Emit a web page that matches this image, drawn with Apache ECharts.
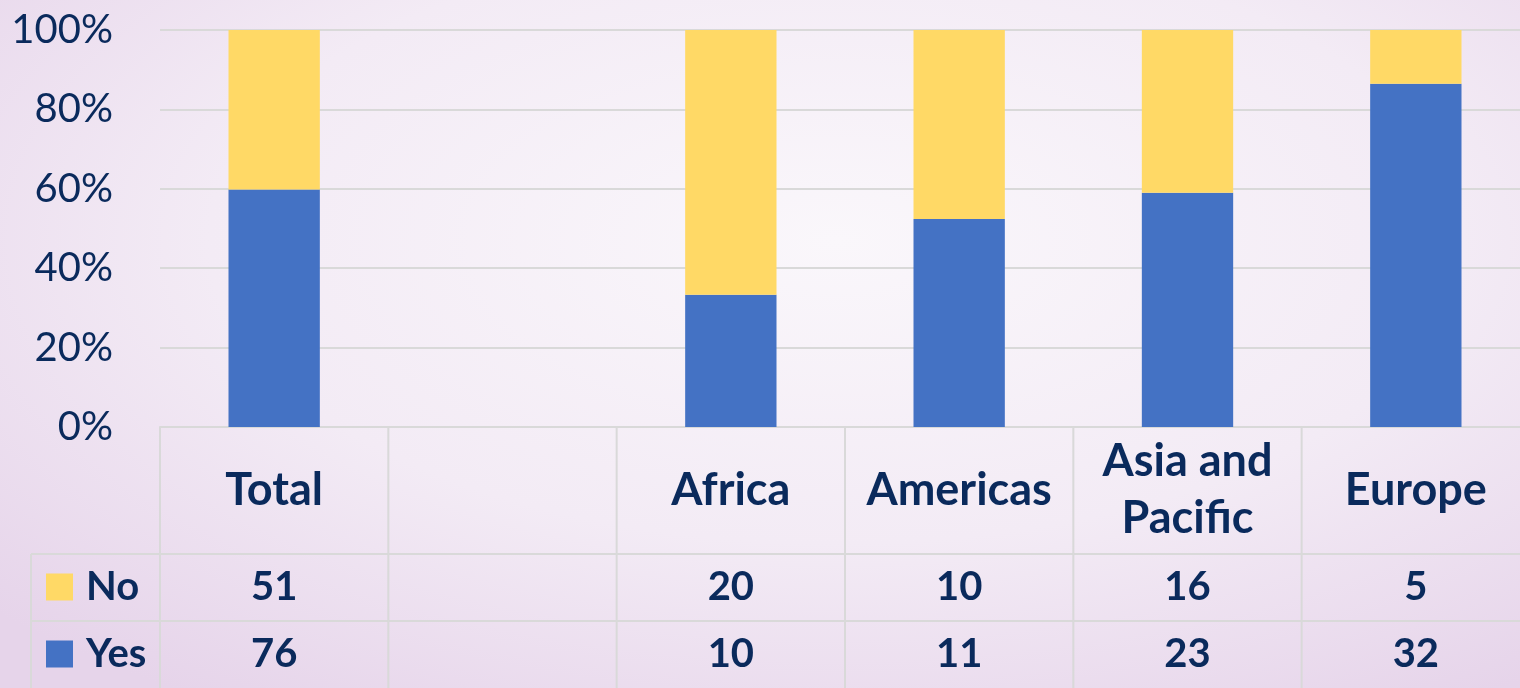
<!DOCTYPE html>
<html>
<head>
<meta charset="utf-8">
<script src="https://cdn.jsdelivr.net/npm/echarts@6/dist/echarts.min.js"></script>
<style>
html,body{margin:0;padding:0;width:1520px;height:688px;overflow:hidden;
background:radial-gradient(ellipse 75% 80% at 55% 35%, #faf7fb 0%, #f3ebf5 55%, #e6d4ea 100%);}
#c{width:1520px;height:688px;}
</style>
</head>
<body>
<div id="c"></div>
<script>
const categories = ['Total', '', 'Africa', 'Americas', 'Asia and\nPacific', 'Europe'];
const noValues = [51, null, 20, 10, 16, 5];
const yesValues = [76, null, 10, 11, 23, 32];
const yTicks = [0, 20, 40, 60, 80, 100];

const NAVY = '#0a2a5c';
const BLUE = '#4472c4';
const YELLOW = '#ffd966';
const LINE = '#d9d9d9';

function pct(part, a, b) {
  if (part == null || a == null || b == null) return null;
  return part / (a + b) * 100;
}
const yesPct = yesValues.map((v, i) => pct(v, yesValues[i], noValues[i]));
const noPct = noValues.map((v, i) => pct(v, yesValues[i], noValues[i]));

const legendBase = {
  orient: 'horizontal', left: 46,
  itemWidth: 27, itemHeight: 27,
  icon: 'rect', padding: 0,
  textStyle: {fontFamily: 'Lato', fontWeight: 'bold', fontSize: 40, color: NAVY, padding: [0, 0, 0, 8]},
  selectedMode: false
};

const chart = echarts.init(document.getElementById('c'), null, {renderer: 'canvas'});
const option = {
  backgroundColor: 'transparent',
  animation: false,
  grid: {left: 160, width: 1370, top: 30, bottom: 261, containLabel: false, outerBoundsMode: 'none'},
  legend: [
    Object.assign({}, legendBase, {top: 567, data: ['No']}),
    Object.assign({}, legendBase, {top: 634, data: ['Yes']})
  ],
  xAxis: {
    type: 'category', data: categories,
    axisLine: {show: true, lineStyle: {color: LINE, width: 2}},
    axisTick: {show: false},
    axisLabel: {
      interval: 0, margin: 63, verticalAlign: 'middle',
      fontFamily: 'Lato', fontWeight: 'bold', fontSize: 45, lineHeight: 57, color: NAVY
    }
  },
  yAxis: {
    type: 'value', min: 0, max: 100, interval: 20,
    axisLine: {show: false}, axisTick: {show: false},
    splitLine: {lineStyle: {color: LINE, width: 2}},
    axisLabel: {
      margin: 47, fontFamily: 'Lato', fontSize: 40, color: NAVY,
      formatter: v => yTicks.includes(v) ? v + '%' : ''
    }
  },
  series: [
    {name: 'Yes', type: 'bar', stack: 's', data: yesPct, barWidth: '40%',
     itemStyle: {color: BLUE}},
    {name: 'No', type: 'bar', stack: 's', data: noPct, barWidth: '40%',
     itemStyle: {color: YELLOW}}
  ]
};
chart.setOption(option);

// Data table drawn from axis positions
const n = categories.length;
const xs = categories.map((c, i) => chart.convertToPixel({xAxisIndex: 0}, i));
const step = n > 1 ? xs[1] - xs[0] : 200;
const y0 = chart.convertToPixel({yAxisIndex: 0}, 0);
const H = 688;
const rowNoTop = 554, rowYesTop = 621;
const graphics = [];
const lineStyle = {stroke: LINE, lineWidth: 2};
const left = xs[0] - step / 2;
const right = xs[n - 1] + step / 2;
graphics.push({type: 'line', shape: {x1: 31, y1: rowNoTop, x2: right, y2: rowNoTop}, style: lineStyle});
graphics.push({type: 'line', shape: {x1: 31, y1: rowYesTop, x2: right, y2: rowYesTop}, style: lineStyle});
graphics.push({type: 'line', shape: {x1: 31, y1: rowNoTop, x2: 31, y2: H}, style: lineStyle});
for (let i = 0; i <= n; i++) {
  const x = left + i * step;
  graphics.push({type: 'line', shape: {x1: x, y1: y0, x2: x, y2: H}, style: lineStyle});
}
const rows = [[noValues, (rowNoTop + rowYesTop) / 2], [yesValues, (rowYesTop + H) / 2]];
rows.forEach(([vals, yc]) => {
  vals.forEach((v, i) => {
    if (v == null) return;
    graphics.push({
      type: 'text', x: xs[i], y: yc,
      style: {text: String(v), fill: NAVY, font: 'bold 40px Lato', align: 'center', verticalAlign: 'middle'}
    });
  });
});
chart.setOption({graphic: graphics});
</script>
</body>
</html>
